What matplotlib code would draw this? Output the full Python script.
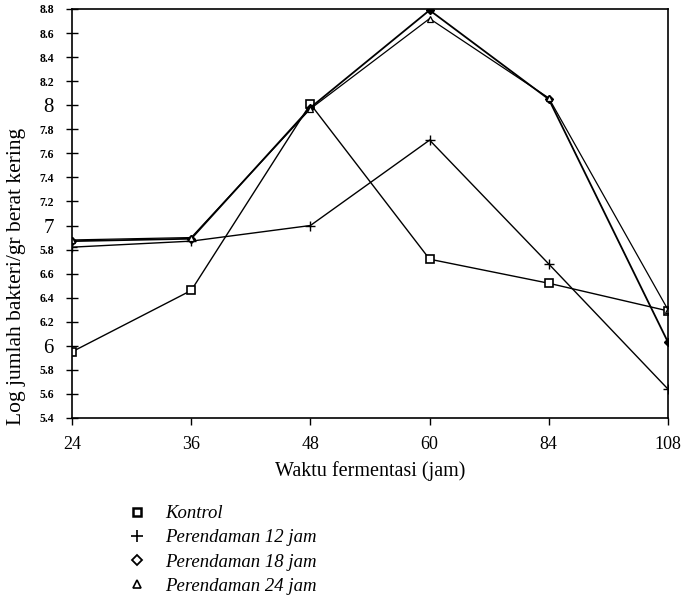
import matplotlib
matplotlib.use("Agg")
import matplotlib.pyplot as plt
from matplotlib.lines import Line2D

categories = ["24", "36", "48", "60", "84", "108"]
kontrol = [5.95, 6.46, 8.01, 6.72, 6.52, 6.29]
rend12 = [6.82, 6.87, 7.00, 7.71, 6.68, 5.64]
rend18 = [6.87, 6.89, 7.98, 8.79, 8.05, 6.03]
rend24 = [6.88, 6.90, 7.97, 8.72, 8.06, 6.30]
series_labels = ["Kontrol", "Perendaman 12 jam", "Perendaman 18 jam", "Perendaman 24 jam"]
ytick_vals = [8.8, 8.6, 8.4, 8.2, 8.0, 7.8, 7.6, 7.4, 7.2, 7.0, 6.8, 6.6, 6.4, 6.2, 6.0, 5.8, 5.6, 5.4]
ytick_labels = ["8.8", "8.6", "8.4", "8.2", "8", "7.8", "7.6", "7.4", "7.2", "7", "5.8",
                "6.6", "6.4", "6.2", "6", "5.8", "5.6", "5.4"]

plt.rcParams['font.family'] = ['Liberation Serif', 'DejaVu Serif']

fig = plt.figure(figsize=(6.91, 6.07), dpi=100)
ax = fig.add_axes([0.1042, 0.3114, 0.8625, 0.6738])

x = list(range(len(categories)))
styles = [
    dict(marker='s', ms=6, mfc='white', mec='black', mew=1.2, lw=1.0),
    dict(marker='+', ms=7, mec='black', mew=1.0, lw=1.0),
    dict(marker='D', ms=4.5, mfc='black', mec='black', mew=1.0, lw=1.3),
    dict(marker='^', ms=5, mfc='white', mec='black', mew=0.9, lw=0.9),
]
for data, st in zip([kontrol, rend12, rend18, rend24], styles):
    ax.plot(x, data, color='black', **st)

ax.set_xlim(0, len(categories) - 1)
ax.set_ylim(5.4, 8.8)
ax.set_xticks(x)
ax.set_xticklabels(categories, fontsize=13)
ax.set_yticks(ytick_vals)
ax.set_yticklabels(ytick_labels)
for lab, v in zip(ax.get_yticklabels(), ytick_vals):
    if abs(v - round(v)) < 1e-6:
        lab.set_fontsize(15)
    else:
        lab.set_fontsize(8.5)
        lab.set_fontweight('bold')
ax.tick_params(axis='y', direction='inout', length=8, width=1.0, pad=9)
ax.tick_params(axis='x', direction='out', length=5, width=1.0, pad=8)
for sp in ax.spines.values():
    sp.set_linewidth(1.2)

ax.set_xlabel("Waktu fermentasi (jam)", fontsize=14.5, labelpad=6)
ax.set_ylabel("Log jumlah bakteri/gr berat kering", fontsize=15.5)
ax.yaxis.set_label_coords(-0.077, 0.345)

handles = [
    Line2D([], [], ls='none', marker='s', ms=6, mfc='white', mec='black', mew=1.8),
    Line2D([], [], ls='none', marker='+', ms=8, mec='black', mew=1.2),
    Line2D([], [], ls='none', marker='D', ms=5, mfc='white', mec='black', mew=1.3),
    Line2D([], [], ls='none', marker='^', ms=6, mfc='white', mec='black', mew=1.2),
]
fig.legend(handles, series_labels, loc='upper left', bbox_to_anchor=(0.185, 0.168),
           frameon=False, handlelength=1.0, handletextpad=1.0, labelspacing=0.38,
           prop=dict(family=['Liberation Serif'], style='italic', size=13.5),
           borderaxespad=0, borderpad=0)

fig.savefig("out.png", dpi=100)
